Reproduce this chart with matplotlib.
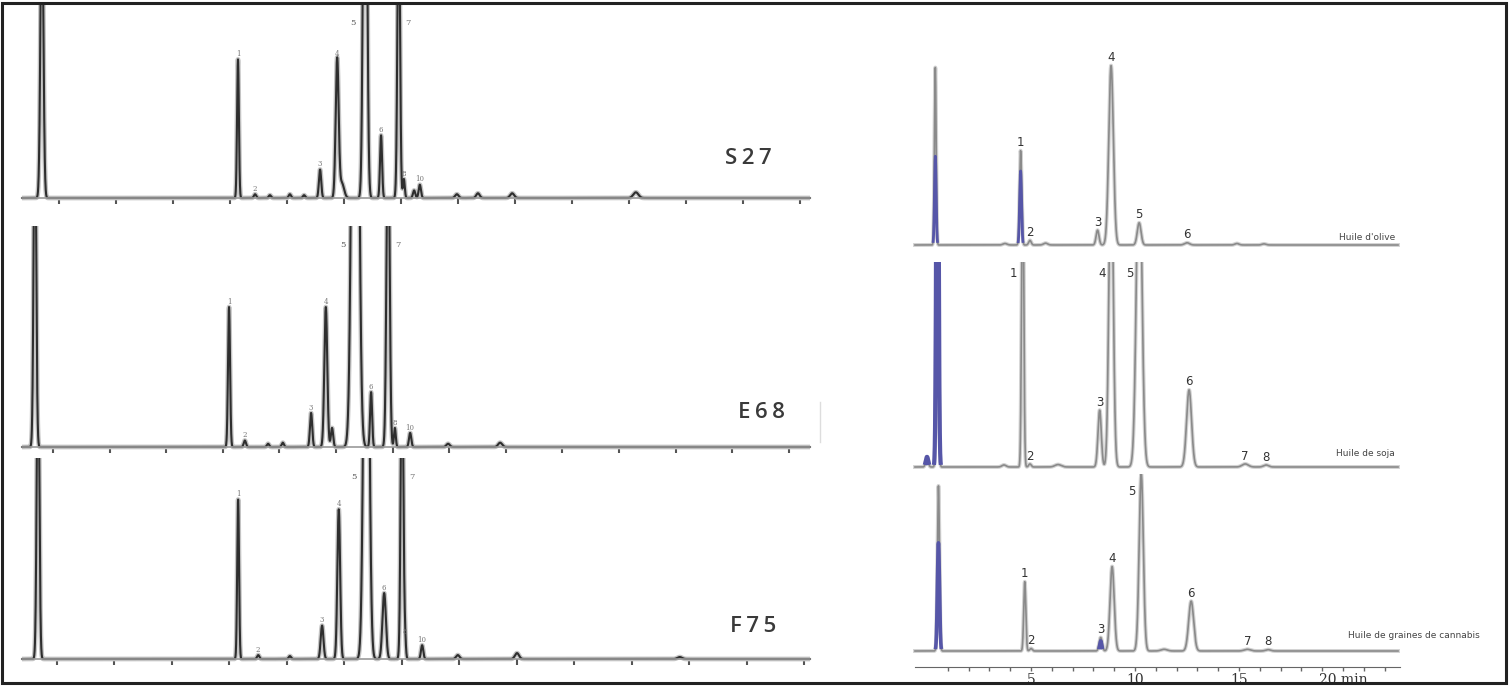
import numpy as np
import matplotlib.pyplot as plt
from matplotlib.patches import Rectangle

W, H = 1511, 688

# ---- left: three GC runs (x in chart divisions, y relative to clip height) ----
s27_pos = [0.70, 4.14, 4.44, 4.70, 5.05, 5.30, 5.58, 5.88, 5.96, 6.37, 6.65, 6.96, 7.05, 7.23, 7.33, 7.98, 8.35, 8.95, 11.12]
s27_h = [1.60, 0.73, 0.02, 0.015, 0.02, 0.015, 0.15, 0.73, 0.08, 3.00, 0.33, 1.60, 0.10, 0.04, 0.07, 0.02, 0.025, 0.025, 0.03]
s27_w = [0.025, 0.016, 0.02, 0.02, 0.02, 0.02, 0.02, 0.026, 0.04, 0.030, 0.018, 0.022, 0.016, 0.02, 0.02, 0.03, 0.03, 0.035, 0.045]
s27_names = ['', '1', '2', '', '', '', '3', '4', '', '5', '6', '7', '8', '', '10', '', '', '', '']

e68_pos = [0.68, 4.11, 4.39, 4.80, 5.06, 5.56, 5.82, 5.93, 6.34, 6.62, 6.92, 7.04, 7.31, 7.98, 8.90]
e68_h = [1.60, 0.645, 0.03, 0.015, 0.02, 0.157, 0.645, 0.088, 4.00, 0.253, 1.60, 0.088, 0.065, 0.015, 0.02]
e68_w = [0.022, 0.018, 0.02, 0.02, 0.02, 0.02, 0.026, 0.02, 0.050, 0.018, 0.026, 0.016, 0.02, 0.03, 0.035]
e68_names = ['', '1', '2', '', '', '3', '4', '', '5', '6', '7', '8', '10', '', '']

f75_pos = [0.67, 4.15, 4.50, 5.05, 5.61, 5.90, 6.38, 6.69, 7.00, 7.05, 7.35, 7.97, 9.00, 11.83]
f75_h = [1.60, 0.81, 0.02, 0.015, 0.17, 0.76, 3.00, 0.335, 1.60, 0.11, 0.07, 0.02, 0.03, 0.01]
f75_w = [0.022, 0.016, 0.02, 0.02, 0.024, 0.024, 0.042, 0.03, 0.022, 0.016, 0.02, 0.03, 0.035, 0.04]
f75_names = ['', '1', '2', '', '3', '4', '5', '6', '7', '8', '10', '', '', '']

# ---- right: three oils (x in minutes) ----
olive_pos = [0.40, 3.75, 4.50, 4.95, 5.70, 8.20, 8.85, 10.20, 12.50, 14.90, 16.20]
olive_h = [0.96, 0.008, 0.51, 0.025, 0.01, 0.08, 0.97, 0.12, 0.012, 0.008, 0.006]
olive_w = [0.04, 0.10, 0.05, 0.06, 0.10, 0.07, 0.11, 0.09, 0.12, 0.10, 0.10]
olive_names = ['', '', '1', '2', '', '3', '4', '5', '6', '', '']
olive_blue_pos = [0.40, 4.50]
olive_blue_h = [0.48, 0.40]
olive_blue_w = [0.04, 0.045]

soja_pos = [0.0, 0.50, 3.70, 4.60, 4.95, 6.30, 8.30, 8.85, 10.20, 12.60, 15.30, 16.30]
soja_h = [0.05, 1.60, 0.01, 1.60, 0.015, 0.012, 0.28, 1.60, 1.60, 0.38, 0.015, 0.01]
soja_w = [0.06, 0.05, 0.10, 0.05, 0.06, 0.15, 0.08, 0.10, 0.13, 0.12, 0.15, 0.12]
soja_names = ['', '', '', '1', '2', '', '3', '4', '5', '6', '7', '8']
soja_blue_pos = [0.0, 0.50]
soja_blue_h = [0.05, 2.50]
soja_blue_w = [0.06, 0.05]

cann_pos = [0.55, 4.70, 5.00, 8.35, 8.90, 10.30, 11.40, 12.70, 15.40, 16.40]
cann_h = [0.977, 0.41, 0.015, 0.08, 0.50, 1.05, 0.01, 0.295, 0.01, 0.008]
cann_w = [0.05, 0.05, 0.06, 0.07, 0.10, 0.10, 0.15, 0.12, 0.15, 0.12]
cann_names = ['', '1', '2', '3', '4', '5', '', '6', '7', '8']
cann_blue_pos = [0.55, 8.35]
cann_blue_h = [0.64, 0.06]
cann_blue_w = [0.05, 0.05]

time_ticks = [5, 10, 15, 20]
time_labels = ['5', '10', '15', '20 min']


def trace(x, pos, h, w):
    y = np.zeros_like(x)
    for p, a, s in zip(pos, h, w):
        y += a * np.exp(-0.5 * ((x - p) / s) ** 2)
    return y


def panel(box, a, b, base_px, top_px):
    # box = (x0, y0, x1, y1) in pixels from top-left; px = a + b * t
    x0, y0, x1, y1 = box
    ax = fig.add_axes([x0 / W, 1 - y1 / H, (x1 - x0) / W, (y1 - y0) / H])
    u = base_px - top_px
    ax.set_xlim((x0 - a) / b, (x1 - a) / b)
    ax.set_ylim((base_px - y1) / u, (base_px - y0) / u)
    ax.patch.set_alpha(0)
    for s in ['left', 'right', 'top']:
        ax.spines[s].set_visible(False)
    ax.set_yticks([])
    return ax


fig = plt.figure(figsize=(W / 100, H / 100), dpi=100)

# left panels
left = [
    (s27_pos, s27_h, s27_w, s27_names, 'S27', (0, 5, 825, 215), 2.0, 57.0, 198, 8, (748, 158)),
    (e68_pos, e68_h, e68_w, e68_names, 'E68', (0, 226, 825, 462), -3.6, 56.6, 447, 230, (762, 413)),
    (f75_pos, f75_h, f75_w, f75_names, 'F75', (0, 458, 825, 674), -0.5, 57.5, 659, 462, (753, 627)),
]
for pos, h, w, names, tag, box, a, b, base, top, tagxy in left:
    ax = panel(box, a, b, base, top)
    t0, t1 = (22 - a) / b, (810 - a) / b
    x = np.linspace(t0, t1, 10000)
    y = trace(x, pos, h, w)
    ax.plot(x, y, color='#c4c4c4', lw=3.4, solid_capstyle='butt')
    ax.plot(x, y, color='#2e2e2e', lw=1.5)
    ax.spines['bottom'].set_position(('data', 0))
    ax.spines['bottom'].set_bounds(t0, t1)
    ax.spines['bottom'].set_color('#9a9a9a')
    ax.spines['bottom'].set_linewidth(1.2)
    ax.set_xticks(np.arange(1, 15))
    ax.tick_params(axis='x', direction='out', length=4, width=1.5, color='#555555', labelbottom=False)
    for p, hh, nm in zip(pos, h, names):
        if not nm:
            continue
        if hh > 1.0:
            if nm == '7':
                ax.annotate(nm, (p, 1.0), xytext=(5, -8), textcoords='offset points',
                            ha='left', va='top', fontsize=6, color='#777777', family='DejaVu Serif')
            else:
                ax.annotate(nm, (p, 1.0), xytext=(-7, -8), textcoords='offset points',
                            ha='right', va='top', fontsize=6, color='#555555', family='DejaVu Serif')
        else:
            ax.annotate(nm, (p, hh), xytext=(0, 1), textcoords='offset points',
                        ha='center', va='bottom', fontsize=5, color='#777777', family='DejaVu Serif')
    fig.text(tagxy[0] / W, 1 - tagxy[1] / H, '\u2009'.join(tag), ha='center', va='center', fontsize=16,
             family=['Open Sans', 'DejaVu Sans'], weight='semibold', color='#3a3a3a')

# right panels
right = [
    (olive_pos, olive_h, olive_w, olive_names, olive_blue_pos, olive_blue_h, olive_blue_w,
     "Huile d'olive", (905, 50, 1505, 258), 245, 60, (1395, 238), 2.0),
    (soja_pos, soja_h, soja_w, soja_names, soja_blue_pos, soja_blue_h, soja_blue_w,
     'Huile de soja', (905, 262, 1505, 475), 467, 264, (1395, 453), 3.0),
    (cann_pos, cann_h, cann_w, cann_names, cann_blue_pos, cann_blue_h, cann_blue_w,
     'Huile de graines de cannabis', (905, 474, 1505, 660), 651, 482, (1480, 635), 2.6),
]
a_r, b_r = 927.0, 20.8
for pos, h, w, names, bpos, bh, bw, tag, box, base, top, tagxy, blw in right:
    ax = panel(box, a_r, b_r, base, top)
    ax.spines['bottom'].set_visible(False)
    ax.set_xticks([])
    x = np.linspace((915 - a_r) / b_r, (1398 - a_r) / b_r, 8000)
    y = trace(x, pos, h, w)
    ax.plot(x, y, color='#d2d2d2', lw=2.8)
    ax.plot(x, y, color='#8a8a8a', lw=1.2)
    yb = trace(x, bpos, bh, bw)
    ax.plot(x, np.where(yb > 0.01, yb, np.nan), color='#5656a8', lw=blw, solid_capstyle='butt')
    for p, hh, nm in zip(pos, h, names):
        if not nm:
            continue
        if hh > 1.0:
            ax.annotate(nm, (p, 1.0), xytext=(-4, -2), textcoords='offset points',
                        ha='right', va='top', fontsize=8.5, color='#333333')
        else:
            ax.annotate(nm, (p, hh), xytext=(0, 1), textcoords='offset points',
                        ha='center', va='bottom', fontsize=8.5, color='#333333')
    fig.text(tagxy[0] / W, 1 - tagxy[1] / H, tag, ha='right', va='center', fontsize=6.5,
             color='#444444')

# time axis of the right block
axt = fig.add_axes([905 / W, 1 - 688 / H, 600 / W, 28 / H])
axt.set_xlim((905 - a_r) / b_r, (1505 - a_r) / b_r)
axt.set_ylim(0, 1)
axt.patch.set_alpha(0)
for s in ['left', 'right', 'top']:
    axt.spines[s].set_visible(False)
axt.spines['bottom'].set_position(('axes', 21 / 28))
axt.spines['bottom'].set_bounds((915 - a_r) / b_r, (1400 - a_r) / b_r)
axt.spines['bottom'].set_color('#666666')
axt.set_yticks([])
axt.set_xticks(time_ticks)
axt.set_xticklabels(time_labels)
axt.set_xticks(np.arange(1, 23), minor=True)
axt.tick_params(axis='x', which='both', direction='out', length=3, width=1, color='#666666',
                labelsize=10, labelcolor='#333333', pad=1)
for lab in axt.get_xticklabels():
    lab.set_family('DejaVu Serif')

# scan mark and outer frame
fig.add_artist(plt.Line2D([820 / W, 820 / W], [1 - 402 / H, 1 - 442 / H], color='#dddddd', lw=1))
fig.add_artist(Rectangle((2 / W, 1 - 683 / H), 1504 / W, 680 / H, transform=fig.transFigure,
                         fill=False, edgecolor='#222222', lw=2.2, zorder=10))

fig.savefig('out.png', dpi=100, facecolor='white')
